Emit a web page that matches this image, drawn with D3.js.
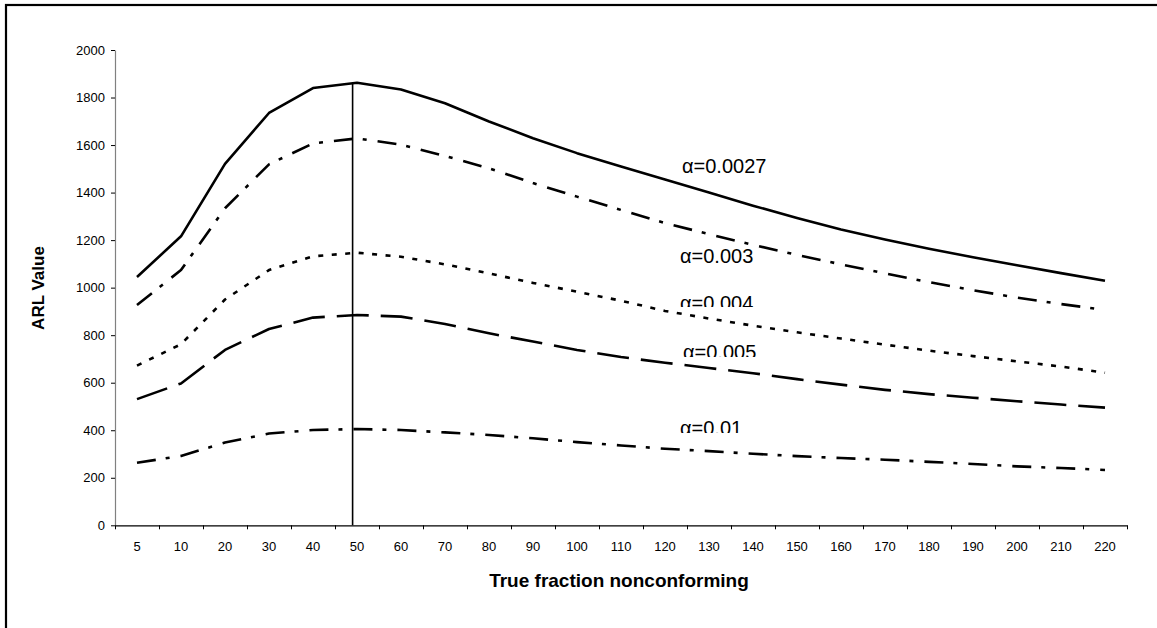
<!DOCTYPE html>
<html>
<head>
<meta charset="utf-8">
<script src="https://cdn.jsdelivr.net/npm/d3@7"></script>
<style>
  html, body { margin: 0; padding: 0; background: #fff; }
  svg { display: block; }
  text { font-family: "Liberation Sans", Arial, sans-serif; fill: #000; }
</style>
</head>
<body>
<svg id="chart" width="1157" height="628"></svg>
<script>
// ---------- data ----------
const categories = ["5","10","20","30","40","50","60","70","80","90","100","110","120","130","140","150","160","170","180","190","200","210","220"];
const yTicks = [0,200,400,600,800,1000,1200,1400,1600,1800,2000];

const alpha0027 = [1045,1216,1521,1735,1840,1862,1834,1776,1699,1629,1566,1510,1455,1400,1345,1293,1245,1203,1164,1128,1094,1061,1029];
const alpha003  = [927,1074,1334,1519,1607,1628,1602,1554,1502,1440,1383,1327,1272,1225,1180,1138,1098,1060,1023,989,958,931,906];
const alpha004  = [672,762,950,1074,1132,1147,1130,1098,1060,1020,983,945,902,870,840,812,786,760,735,712,690,668,642];
const alpha005  = [531,597,738,826,874,885,878,847,808,773,738,708,684,662,640,615,592,570,552,537,522,508,495];
const alpha01   = [263,292,348,386,401,405,401,391,380,366,350,336,322,312,301,291,283,276,267,258,248,241,233];

const seriesNames = ["α=0.0027","α=0.003","α=0.004","α=0.005","α=0.01"];
const seriesValues = [alpha0027, alpha003, alpha004, alpha005, alpha01];

const refLineIndex = 5.4;   // vertical marker near category "50"
const refLineTop = 1862;

const xTitle = "True fraction nonconforming";
const yTitle = "ARL Value";

// ---------- layout / style ----------
const plotLeft = 115, plotRight = 1127, plotTop = 50, plotBottom = 525.3;
const dashes = ["none", "19,10,4,11", "5,8.5", "32,12", "19,10,4,11"];
const labelPos = [
  {x: 682, y: 173, clip: null},
  {x: 680, y: 263, clip: null},
  {x: 680, y: 310, clip: 307},
  {x: 683, y: 359, clip: 357},
  {x: 680, y: 435, clip: 433}
];

const svg = d3.select("#chart");

// outer border
svg.append("rect")
  .attr("x", 6).attr("y", 5).attr("width", 1300).attr("height", 800)
  .attr("fill", "none").attr("stroke", "#000").attr("stroke-width", 2.2);

const x = d3.scaleBand().domain(categories).range([plotLeft, plotRight]).paddingInner(0).paddingOuter(0);
const xi = d3.scaleLinear().domain([0, categories.length]).range([plotLeft, plotRight]);
const y = d3.scaleLinear().domain([0, 2000]).range([plotBottom, plotTop]);

// y axis
const yAxis = svg.append("g")
  .attr("transform", `translate(${plotLeft},0)`)
  .call(d3.axisLeft(y).tickValues(yTicks).tickFormat(d3.format("d")).tickSize(4).tickSizeOuter(0).tickPadding(6));
yAxis.select(".domain").attr("stroke", "#808080").attr("stroke-width", 1.2);
yAxis.selectAll(".tick line").attr("stroke", "#000");
yAxis.selectAll("text").style("font-size", "13px").style("font-family", "'Liberation Sans', Arial, sans-serif");

// x axis (labels at band centres, ticks at band boundaries)
const xAxis = svg.append("g")
  .attr("transform", `translate(0,${plotBottom})`)
  .call(d3.axisBottom(x).tickSize(0).tickPadding(16));
xAxis.select(".domain").remove();
xAxis.selectAll("text").style("font-size", "13px").style("font-family", "'Liberation Sans', Arial, sans-serif");

const boundaryTicks = d3.range(categories.length + 1);
svg.append("g")
  .attr("transform", `translate(0,${plotBottom})`)
  .call(d3.axisBottom(xi).tickValues(boundaryTicks).tickSize(4).tickSizeOuter(0).tickFormat(""))
  .call(g => g.select(".domain").attr("stroke", "#000").attr("stroke-width", 1.3))
  .call(g => g.selectAll(".tick line").attr("stroke", "#000"));

// vertical reference line
svg.append("line")
  .attr("x1", xi(refLineIndex)).attr("x2", xi(refLineIndex))
  .attr("y1", y(0)).attr("y2", y(refLineTop))
  .attr("stroke", "#000").attr("stroke-width", 1.6);

// series lines
const line = d3.line()
  .x((d, i) => x(categories[i]) + x.bandwidth() / 2)
  .y(d => y(d));

seriesValues.forEach((vals, k) => {
  svg.append("path")
    .datum(vals)
    .attr("d", line)
    .attr("fill", "none")
    .attr("stroke", "#000")
    .attr("stroke-width", 2.6)
    .attr("stroke-linejoin", "round")
    .attr("stroke-dasharray", dashes[k]);
});

// labels
const defs = svg.append("defs");
seriesNames.forEach((name, k) => {
  const p = labelPos[k];
  const t = svg.append("text")
    .attr("x", p.x).attr("y", p.y)
    .style("font-size", "20px")
    .text(name);
  if (p.clip !== null) {
    const id = "clip" + k;
    defs.append("clipPath").attr("id", id)
      .append("rect").attr("x", p.x - 5).attr("y", p.y - 30).attr("width", 150).attr("height", p.clip - (p.y - 30));
    t.attr("clip-path", `url(#${id})`);
  }
});

// axis titles
svg.append("text")
  .attr("x", 619).attr("y", 587)
  .attr("text-anchor", "middle")
  .style("font-size", "19px").style("font-weight", "bold")
  .text(xTitle);

svg.append("text")
  .attr("transform", "translate(44,288) rotate(-90)")
  .attr("text-anchor", "middle")
  .style("font-size", "17px").style("font-weight", "bold")
  .text(yTitle);
</script>
</body>
</html>
